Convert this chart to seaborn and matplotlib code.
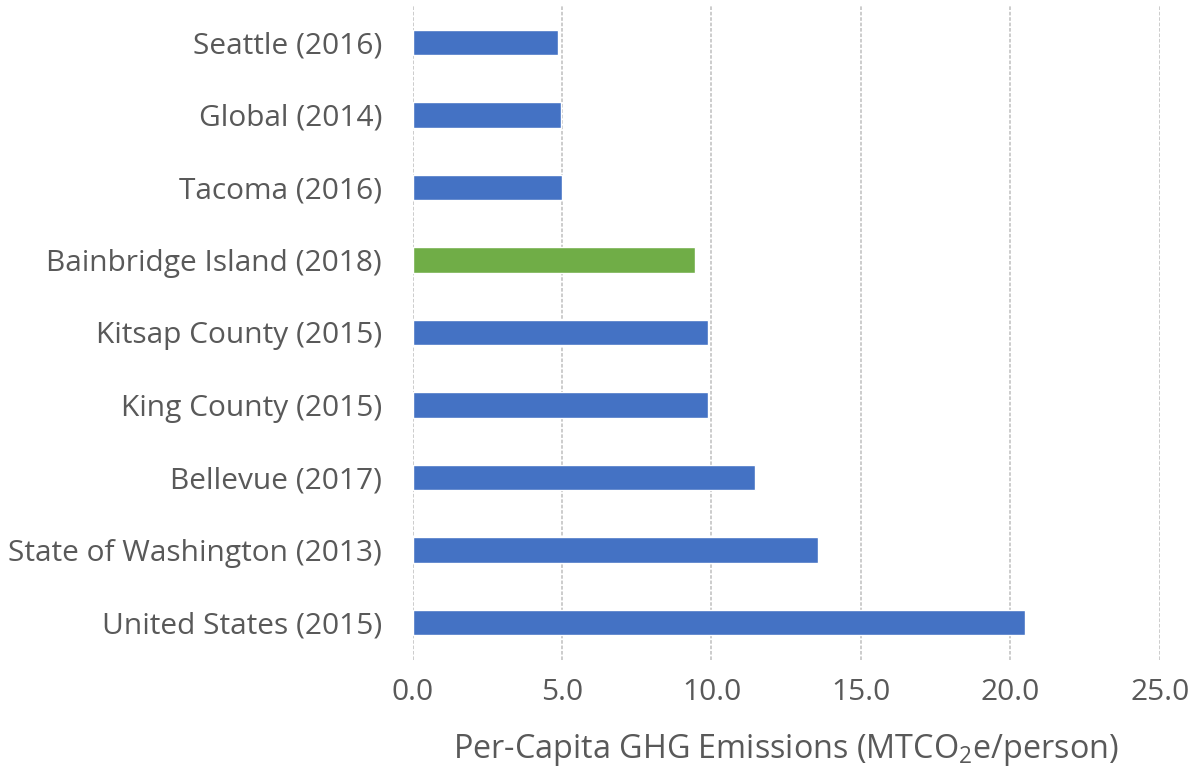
import matplotlib
matplotlib.use("Agg")
import matplotlib.pyplot as plt
import seaborn as sns
import pandas as pd

places = ["Seattle (2016)", "Global (2014)", "Tacoma (2016)", "Bainbridge Island (2018)",
          "Kitsap County (2015)", "King County (2015)", "Bellevue (2017)",
          "State of Washington (2013)", "United States (2015)"]
emissions = [4.85, 4.95, 5.0, 9.45, 9.9, 9.9, 11.45, 13.55, 20.5]
colors = ["#4472C4", "#4472C4", "#4472C4", "#70AD47", "#4472C4",
          "#4472C4", "#4472C4", "#4472C4", "#4472C4"]


def main():
    df = pd.DataFrame({"place": places, "value": emissions})

    sns.set_theme(style="white")
    plt.rcParams['font.family'] = ['Open Sans', 'DejaVu Sans']
    plt.rcParams['mathtext.fontset'] = 'custom'
    plt.rcParams['mathtext.rm'] = 'Open Sans'
    plt.rcParams['mathtext.it'] = 'Open Sans'
    grey = "#595959"

    fig = plt.figure(figsize=(12.03, 7.75), dpi=100)
    ax = fig.add_axes([0.343, 0.148, 0.621, 0.846])

    sns.barplot(data=df, x="value", y="place", hue="place", palette=colors,
                legend=False, width=0.35, ax=ax, saturation=1)

    ax.set_xlim(0, 25)
    ax.set_ylim(8.52, -0.52)
    ax.set_xticks([0, 5, 10, 15, 20, 25])
    ax.set_xticklabels([f"{t:.1f}" for t in [0, 5, 10, 15, 20, 25]])
    ax.xaxis.grid(True, color="#c8c8c8", linestyle=(0, (2, 1)), linewidth=1.3)
    ax.set_axisbelow(True)
    for s in ax.spines.values():
        s.set_visible(False)

    ax.tick_params(axis="y", length=0, pad=22, labelsize=21.5, labelcolor=grey)
    ax.tick_params(axis="x", length=0, pad=13, labelsize=21.5, labelcolor=grey)
    ax.set_ylabel("")
    ax.set_xlabel("Per-Capita GHG Emissions (MTCO$_\\mathrm{2}$e/person)", fontsize=23.3,
                  color=grey, labelpad=18)

    fig.savefig("out.png", dpi=100)


if __name__ == '__main__':
    main()
